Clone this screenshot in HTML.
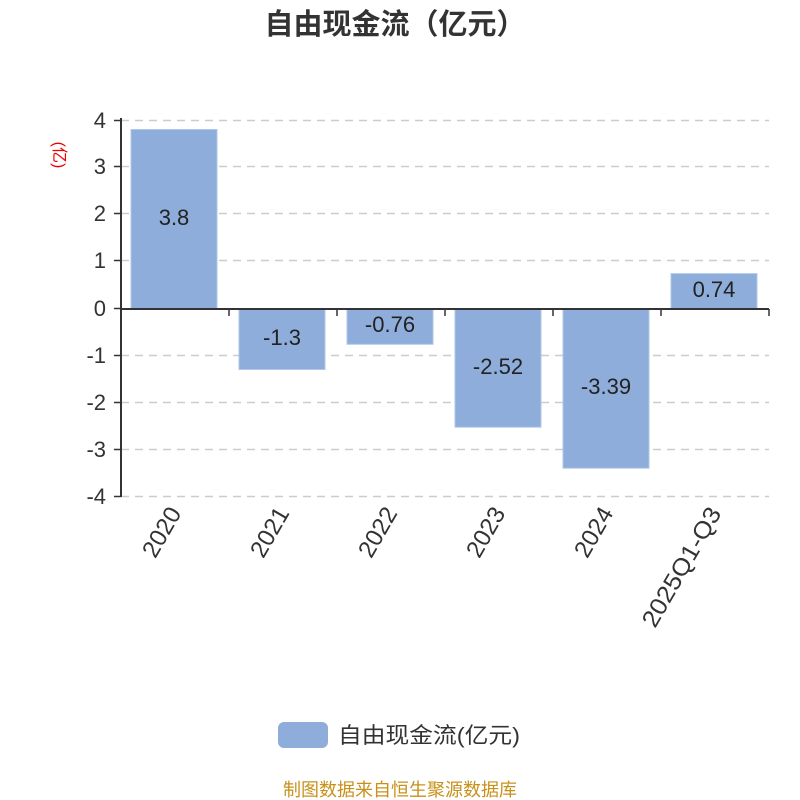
<!DOCTYPE html>
<html><head><meta charset="utf-8"><style>body{margin:0;background:#fff}svg{display:block}</style></head>
<body>
<svg width="800" height="800" xmlns="http://www.w3.org/2000/svg" font-family="'Liberation Sans','Noto Sans CJK SC',sans-serif">
<text x="395" y="34" text-anchor="middle" font-size="29" font-weight="bold" fill="#333">自由现金流（亿元）</text>
<text transform="translate(54,155) rotate(90)" text-anchor="middle" font-size="16" fill="#e00">(亿)</text>
<g stroke="#ccc" stroke-dasharray="8,6" stroke-width="1.5">
<line x1="121" y1="120.5" x2="769" y2="120.5"/><line x1="121" y1="166.5" x2="769" y2="166.5"/>
<line x1="121" y1="213.5" x2="769" y2="213.5"/><line x1="121" y1="260.5" x2="769" y2="260.5"/>
<line x1="121" y1="355.5" x2="769" y2="355.5"/><line x1="121" y1="402.5" x2="769" y2="402.5"/>
<line x1="121" y1="449.5" x2="769" y2="449.5"/><line x1="121" y1="496.5" x2="769" y2="496.5"/>
</g>
<g fill="#8eadda" stroke="#b0c8ea" stroke-width="1">
<rect x="131" y="129.5" width="86" height="179"/>
<rect x="239" y="308.5" width="86" height="61"/>
<rect x="347" y="308.5" width="86" height="35.8"/>
<rect x="455" y="308.5" width="86" height="118.7"/>
<rect x="563" y="308.5" width="86" height="159.7"/>
<rect x="671" y="273.6" width="86" height="34.9"/>
</g>
<g stroke="#333" stroke-width="2">
<line x1="121" y1="118" x2="121" y2="497"/>
<line x1="120" y1="309" x2="769" y2="309"/>
</g>
<g stroke="#333" stroke-width="1.5">
<line x1="114" y1="120.5" x2="121" y2="120.5"/><line x1="114" y1="166.5" x2="121" y2="166.5"/>
<line x1="114" y1="213.5" x2="121" y2="213.5"/><line x1="114" y1="260.5" x2="121" y2="260.5"/>
<line x1="114" y1="308.5" x2="121" y2="308.5"/><line x1="114" y1="355.5" x2="121" y2="355.5"/>
<line x1="114" y1="402.5" x2="121" y2="402.5"/><line x1="114" y1="449.5" x2="121" y2="449.5"/>
<line x1="114" y1="496.5" x2="121" y2="496.5"/>
<line x1="229" y1="309" x2="229" y2="316"/><line x1="337" y1="309" x2="337" y2="316"/>
<line x1="445" y1="309" x2="445" y2="316"/><line x1="553" y1="309" x2="553" y2="316"/>
<line x1="661" y1="309" x2="661" y2="316"/><line x1="769" y1="309" x2="769" y2="316"/>
</g>
<g font-size="22" fill="#333" text-anchor="end">
<text x="106" y="128">4</text><text x="106" y="174">3</text><text x="106" y="221">2</text>
<text x="106" y="268">1</text><text x="106" y="316">0</text><text x="106" y="363">-1</text>
<text x="106" y="410">-2</text><text x="106" y="457">-3</text><text x="106" y="504">-4</text>
</g>
<g font-size="22" fill="#222" text-anchor="middle">
<text x="174" y="225">3.8</text><text x="282" y="345">-1.3</text><text x="390" y="332">-0.76</text>
<text x="498" y="374">-2.52</text><text x="606" y="394">-3.39</text><text x="714" y="297">0.74</text>
</g>
<g font-size="24" fill="#333" text-anchor="end">
<text transform="translate(182,513) rotate(-60)">2020</text>
<text transform="translate(290,513) rotate(-60)">2021</text>
<text transform="translate(398,513) rotate(-60)">2022</text>
<text transform="translate(506,513) rotate(-60)">2023</text>
<text transform="translate(614,513) rotate(-60)">2024</text>
<text transform="translate(722,513) rotate(-60)" textLength="134" lengthAdjust="spacingAndGlyphs">2025Q1-Q3</text>
</g>
<rect x="278" y="722" width="50" height="26" rx="6" fill="#8eadda"/>
<text x="338" y="743" font-size="22" fill="#333" textLength="182" lengthAdjust="spacingAndGlyphs">自由现金流(亿元)</text>
<text x="400" y="796" text-anchor="middle" font-size="18" fill="#c8901a">制图数据来自恒生聚源数据库</text>
</svg>
</body></html>
